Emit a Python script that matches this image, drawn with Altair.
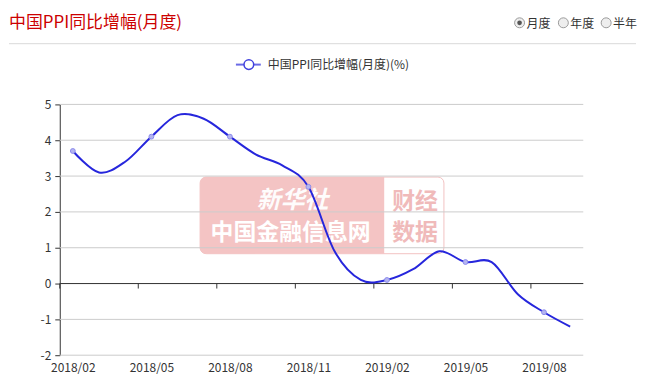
import json
import altair as alt
import pandas as pd

# ---- data ----
months = ["2018/02", "2018/03", "2018/04", "2018/05", "2018/06", "2018/07",
          "2018/08", "2018/09", "2018/10", "2018/11", "2018/12", "2019/01",
          "2019/02", "2019/03", "2019/04", "2019/05", "2019/06", "2019/07",
          "2019/08", "2019/09"]
ppi = [3.7, 3.1, 3.4, 4.1, 4.7, 4.6, 4.1, 3.6, 3.3, 2.7, 0.9, 0.1,
       0.1, 0.4, 0.9, 0.6, 0.6, -0.3, -0.8, -1.2]
y_ticks = [-2, -1, 0, 1, 2, 3, 4, 5]
label_step = 3
title_text = "中国PPI同比增幅(月度)"
legend_text = "中国PPI同比增幅(月度)(%)"
radio_labels = ["月度", "年度", "半年"]

idx = list(range(len(months)))
label_idx = idx[::label_step]
boundaries = [i - 0.5 for i in label_idx]

df = pd.DataFrame({"i": idx, "month": months, "v": ppi})
df_pts = df[df["i"] % label_step == 0]
df_grid = pd.DataFrame({"g": y_ticks})
df_b = pd.DataFrame({"b": boundaries})
one = pd.DataFrame({"a": [0]})

W, H = 526, 252
LINE = "#2626dc"
FONT = "Noto Sans CJK SC"

xscale = alt.Scale(domain=[-0.5, len(months) - 0.5], nice=False, zero=False)
yscale = alt.Scale(domain=[y_ticks[0], y_ticks[-1]], nice=False)

xaxis = alt.Axis(values=label_idx, labelExpr=f"{json.dumps(months)}[datum.value]",
                 ticks=False, domain=False, grid=False, labelPadding=7,
                 labelFontSize=12, labelColor="#333", labelFont=FONT, title=None)
yaxis = alt.Axis(values=y_ticks, labelExpr="'' + datum.value", grid=False,
                 labelOverlap=False,
                 domainColor="#333", tickColor="#333", tickSize=5, labelPadding=4,
                 labelFontSize=12, labelColor="#333", labelFont=FONT, title=None)

# ---- header ----
title = alt.Chart(one).mark_text(text=title_text, align="left", baseline="middle",
                                 font=FONT, fontSize=17, color="#cc0000").encode(
    x=alt.value(-51), y=alt.value(-82))
sep = alt.Chart(one).mark_rule(color="#d9d9d9", strokeWidth=1).encode(
    x=alt.value(-51), x2=alt.value(579), y=alt.value(-61))

radio_x = [462, 506, 549]
radio_layers = []
for k, lab in enumerate(radio_labels):
    radio_layers.append(alt.Chart(one).mark_point(
        shape="circle", filled=True, size=100, fill="#eeeeee", stroke="#9a9a9a",
        strokeWidth=1, opacity=1).encode(x=alt.value(radio_x[k]), y=alt.value(-82)))
    if k == 0:
        radio_layers.append(alt.Chart(one).mark_point(
            shape="circle", filled=True, size=22, color="#555555", opacity=1).encode(
            x=alt.value(radio_x[k]), y=alt.value(-82)))
    radio_layers.append(alt.Chart(one).mark_text(
        text=lab, align="left", baseline="middle", font=FONT, fontSize=12,
        color="#333").encode(x=alt.value(radio_x[k] + 7), y=alt.value(-81)))

# ---- legend ----
leg_line = alt.Chart(one).mark_rule(color="#6a6ae6", strokeWidth=2).encode(
    x=alt.value(177), x2=alt.value(202), y=alt.value(-40))
leg_circ = alt.Chart(one).mark_point(shape="circle", filled=True, size=95, fill="white",
                                     stroke="#4040dd", strokeWidth=1.5, opacity=1).encode(
    x=alt.value(190), y=alt.value(-40))
leg_txt = alt.Chart(one).mark_text(text=legend_text, align="left", baseline="middle",
                                   font=FONT, fontSize=12, color="#333").encode(
    x=alt.value(209), y=alt.value(-40))

# ---- watermark ----
wm_outer = alt.Chart(one).mark_rect(fill="white", stroke="#f2c2c2", strokeWidth=1,
                                    cornerRadius=6).encode(
    x=alt.value(141), x2=alt.value(386), y=alt.value(73), y2=alt.value(150))
wm_pink = alt.Chart(one).mark_rect(fill="#f4c4c4", cornerRadiusTopLeft=6,
                                   cornerRadiusBottomLeft=6).encode(
    x=alt.value(141), x2=alt.value(326), y=alt.value(73), y2=alt.value(150))
wm_t1 = alt.Chart(one).mark_text(text="新华社", font=FONT, fontSize=24, fontWeight="bold",
                                 fontStyle="italic", color="white", align="center",
                                 baseline="middle", opacity=0.95).encode(
    x=alt.value(234), y=alt.value(97))
wm_t2 = alt.Chart(one).mark_text(text="中国金融信息网", font=FONT, fontSize=23,
                                 fontWeight="bold", color="white", align="center",
                                 baseline="middle").encode(
    x=alt.value(232), y=alt.value(129))
wm_t3 = alt.Chart(one).mark_text(text="财经", font=FONT, fontSize=23, fontWeight="bold",
                                 color="#f0baba", align="center", baseline="middle").encode(
    x=alt.value(357), y=alt.value(98))
wm_t4 = alt.Chart(one).mark_text(text="数据", font=FONT, fontSize=23, fontWeight="bold",
                                 color="#f0baba", align="center", baseline="middle").encode(
    x=alt.value(357), y=alt.value(129))

# ---- plot ----
grid = alt.Chart(df_grid).mark_rule(color="#cccccc", strokeWidth=1).encode(
    y=alt.Y("g:Q", scale=yscale, axis=yaxis))
zero = alt.Chart(one).mark_rule(color="#333333", strokeWidth=1).encode(
    y=alt.YDatum(0, scale=yscale, axis=yaxis))
ticks = alt.Chart(df_b).mark_rule(color="#333333", strokeWidth=1, y2Offset=5).encode(
    x=alt.X("b:Q", scale=xscale, axis=xaxis),
    y=alt.YDatum(0, scale=yscale, axis=yaxis), y2=alt.Y2Datum(0))
line = alt.Chart(df).mark_line(interpolate="cardinal", color=LINE, strokeWidth=2).encode(
    x=alt.X("i:Q", scale=xscale, axis=xaxis),
    y=alt.Y("v:Q", scale=yscale, axis=yaxis))
pts = alt.Chart(df_pts).mark_point(shape="circle", filled=True, size=24, fill="#b4b4f0",
                                   stroke="#8c8cec", strokeWidth=1, opacity=1).encode(
    x=alt.X("i:Q", scale=xscale, axis=xaxis),
    y=alt.Y("v:Q", scale=yscale, axis=yaxis))

chart = alt.layer(
    wm_outer, wm_pink, wm_t1, wm_t2, wm_t3, wm_t4,
    grid, zero, ticks, line, pts,
    title, sep, *radio_layers,
    leg_line, leg_circ, leg_txt,
).properties(
    width=W, height=H,
    padding={"left": 0, "top": 5, "right": 0, "bottom": 0},
).configure_view(stroke=None)

chart.save("out.html", embed_options={"renderer": "svg", "actions": False})
